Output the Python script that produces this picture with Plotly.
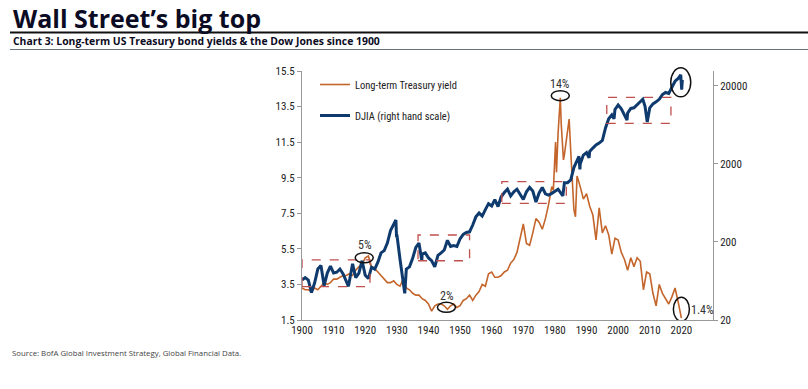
import math
import plotly.graph_objects as go

# ---------------- data ----------------
yield_years = [1900, 1901, 1902, 1903, 1904, 1905, 1906, 1907, 1908, 1909,
               1910, 1911, 1912, 1913, 1914, 1915, 1916, 1917, 1918, 1919,
               1920, 1921, 1922, 1923, 1924, 1925, 1926, 1927, 1928, 1929,
               1930, 1931, 1932, 1933, 1934, 1935, 1936, 1937, 1938, 1939,
               1940, 1941, 1942, 1943, 1944, 1945, 1946, 1947, 1948, 1949,
               1950, 1951, 1952, 1953, 1954, 1955, 1956, 1957, 1958, 1959,
               1960, 1961, 1962, 1963, 1964, 1965, 1966, 1967, 1968, 1969,
               1970, 1971, 1972, 1973, 1974, 1975, 1976, 1977, 1978, 1979,
               1979.5, 1980.2, 1980.5, 1981.0, 1981.7, 1982.0, 1982.7, 1983.0,
               1984.5, 1985, 1986, 1986.5, 1987, 1988, 1989,
               1990, 1991, 1992, 1993, 1994, 1995, 1996, 1997, 1998, 1999,
               2000, 2001, 2002, 2003, 2004, 2005, 2006, 2007, 2008, 2009,
               2010, 2011, 2012, 2013, 2014, 2015, 2016, 2017, 2018, 2019, 2020]
yield_values = [3.3, 3.2, 3.2, 3.1, 3.3, 3.2, 3.4, 3.6, 3.5, 3.6,
                3.8, 3.8, 3.9, 4.0, 4.0, 4.1, 4.0, 4.3, 4.5, 4.6,
                5.0, 5.1, 4.5, 4.4, 4.2, 4.0, 3.8, 3.6, 3.6, 3.7,
                3.5, 3.4, 3.8, 3.3, 3.2, 3.0, 2.9, 2.9, 2.7, 2.6,
                2.4, 2.0, 2.3, 2.4, 2.4, 2.3, 2.1, 2.3, 2.4, 2.2,
                2.3, 2.6, 2.7, 2.9, 2.6, 2.9, 3.1, 3.5, 3.4, 4.1,
                4.2, 3.9, 3.9, 4.0, 4.2, 4.3, 4.7, 4.9, 5.3, 6.1,
                6.9, 5.8, 5.7, 6.4, 7.2, 7.0, 6.6, 7.2, 8.0, 9.0,
                8.8, 11.5, 9.8, 12.0, 14.0, 12.5, 10.5, 10.8,
                12.8, 11.0, 7.7, 7.3, 9.6, 9.0, 8.3,
                8.6, 7.9, 7.4, 6.0, 7.8, 6.4, 6.8, 6.3, 5.2, 6.1,
                6.0, 5.3, 4.9, 4.3, 5.0, 4.5, 5.0, 4.8, 3.2, 4.2,
                4.1, 3.0, 2.3, 3.5, 3.0, 2.7, 2.4, 2.8, 3.3, 2.5, 1.6]

djia_years = [1900, 1901, 1902, 1903, 1904, 1905, 1906, 1907, 1908, 1909,
              1910, 1911, 1912, 1913, 1914.7, 1916, 1917, 1918, 1919,
              1920, 1921, 1922, 1923, 1924, 1925, 1926, 1927, 1928, 1929.7,
              1929.9, 1930, 1931, 1932.5, 1933, 1934, 1935, 1936, 1937, 1937.9,
              1938, 1939, 1940, 1941, 1942, 1943, 1944, 1945, 1946, 1947,
              1948, 1949, 1950, 1951, 1952, 1953, 1954, 1955, 1956, 1957,
              1958, 1959, 1960, 1961, 1962, 1963, 1964, 1965, 1966, 1967,
              1968, 1969, 1970, 1971, 1972, 1973, 1974, 1975, 1976, 1977,
              1978, 1979, 1980, 1981, 1982.5, 1983, 1984, 1985, 1986, 1987.6,
              1987.9, 1988, 1989, 1990, 1990.8, 1991, 1992, 1993, 1994, 1995,
              1996, 1997, 1998, 1998.7, 1999, 2000, 2001, 2002, 2002.8, 2003,
              2004, 2005, 2006, 2007.8, 2008.5, 2009.2, 2010, 2011, 2012, 2013,
              2014, 2015, 2016, 2017, 2018, 2019, 2019.8, 2020.1, 2020.3]
djia_values = [65, 70, 65, 45, 60, 90, 100, 55, 80, 98,
               80, 82, 90, 78, 54, 105, 70, 80, 115,
               75, 68, 95, 90, 110, 145, 155, 194, 280, 383,
               230, 250, 120, 44, 90, 96, 124, 170, 194, 115,
               140, 145, 125, 115, 96, 135, 145, 158, 210, 175,
               180, 175, 220, 250, 265, 270, 330, 420, 470, 430,
               520, 620, 580, 700, 570, 760, 860, 950, 780, 880,
               950, 800, 700, 880, 1000, 900, 650, 850, 1000, 830,
               800, 840, 900, 950, 780, 1150, 1150, 1250, 1800, 2500,
               1700, 2000, 2600, 2800, 2400, 2900, 3200, 3500, 3700, 4000,
               5800, 7600, 8500, 7600, 10000, 11400, 10200, 8500, 7300, 9000,
               10300, 10500, 11500, 13500, 11000, 6900, 10500, 11800, 12500, 13500,
               15500, 16500, 16000, 19500, 23000, 25000, 27800, 18000, 24000]

x_ticks = [1900, 1910, 1920, 1930, 1940, 1950, 1960, 1970, 1980, 1990, 2000, 2010, 2020]
y_ticks = [1.5, 3.5, 5.5, 7.5, 9.5, 11.5, 13.5, 15.5]
y2_ticks = [20, 200, 2000, 20000]
y2_ticktext = ["20", "200", "2000", "20000"]

# highlighted ranges (years, DJIA level low/high)
box_x0 = [1900, 1936.7, 1963.2, 1996.4]
box_x1 = [1921.5, 1953, 1983.6, 2016.7]
box_y0 = [53.5, 115, 627, 6650]
box_y1 = [118, 246, 1186, 14300]

# highlighted yield points: year, label
yield_marks_year = [1920, 1946, 1981.7, 2020]
yield_marks_text = ["5%", "2%", "14%", "1.4%"]

X_RANGE = [1900, 2030]
Y_RANGE = [1.5, 15.5]
Y2_RANGE = [math.log10(20), 4.493]

ORANGE = "#C4662B"
BLUE = "#0E3A6E"
BOXRED = "#C0504D"
NARROW = "Roboto Condensed, Liberation Sans Narrow, sans-serif"
HEAD = "Open Sans, Noto Sans, sans-serif"

# page geometry (body margin removed in the page, see post_script)
W, H = 808, 389
L, R, T, B = 302, 95, 71, 69
pw, ph = W - L - R, H - T - B


def px(xs):
    """screen x pixel -> paper coordinate"""
    return (xs - L) / pw


def py(ys):
    """screen y pixel -> paper coordinate"""
    return (H - B - ys) / ph


# ---------------- figure ----------------
fig = go.Figure()
fig.add_trace(go.Scatter(x=yield_years, y=yield_values, mode="lines",
                         name="Long-term Treasury yield", legendgroup="a",
                         line=dict(color=ORANGE, width=1.6), yaxis="y"))
fig.add_trace(go.Scatter(x=djia_years, y=djia_values, mode="lines",
                         name="DJIA (right hand scale)", legendgroup="b",
                         line=dict(color=BLUE, width=3), yaxis="y2"))

# dashed boxes
for a, b, c, d in zip(box_x0, box_x1, box_y0, box_y1):
    fig.add_shape(type="rect", xref="x", yref="y2", x0=a, x1=b, y0=c, y1=d,
                  line=dict(color=BOXRED, width=1.3, dash="dash"),
                  fillcolor="rgba(0,0,0,0)")

# ellipses and labels on yield highlights
circ = {  # pixel offsets (dx0, dx1, dy0, dy1) relative to point, y positive up
    "5%": (-10, 8, -5, 5),
    "2%": (-10, 8, -3, 7),
    "14%": (-9, 9, -3, 7),
    "1.4%": (-8, 8, -3, 21),
}
for yr, txt in zip(yield_marks_year, yield_marks_text):
    val = yield_values[yield_years.index(yr)]
    dx0, dx1, dy0, dy1 = circ[txt]
    fig.add_shape(type="circle", xref="x", yref="y",
                  xsizemode="pixel", ysizemode="pixel",
                  xanchor=yr, yanchor=val, x0=dx0, x1=dx1, y0=dy0, y1=dy1,
                  line=dict(color="#111111", width=1.5))
    if txt == "1.4%":
        fig.add_annotation(x=yr, y=val, xref="x", yref="y", text=txt,
                           showarrow=False, xanchor="left", yanchor="middle",
                           xshift=8, yshift=8,
                           font=dict(family=NARROW, size=12, color="#333333"))
    else:
        fig.add_annotation(x=yr, y=val, xref="x", yref="y", text=txt,
                           showarrow=False, xanchor="center", yanchor="bottom",
                           yshift=4 if txt != "14%" else 5,
                           font=dict(family=NARROW, size=12, color="#333333"))

# DJIA top circle (drawn in paper space so it is not clipped by the plot edge)
top_i = djia_values.index(max(djia_values))
top_xp = (djia_years[top_i] - X_RANGE[0]) / (X_RANGE[1] - X_RANGE[0])
top_yp = (math.log10(djia_values[top_i]) - Y2_RANGE[0]) / (Y2_RANGE[1] - Y2_RANGE[0])
fig.add_shape(type="circle", xref="paper", yref="paper",
              xsizemode="pixel", ysizemode="pixel",
              xanchor=top_xp, yanchor=top_yp,
              x0=-10, x1=10, y0=-22, y1=7,
              line=dict(color="#111111", width=1.5))

# ---------------- header / footer ----------------
fig.add_annotation(xref="paper", yref="paper", x=px(11), y=py(18),
                   xanchor="left", yanchor="middle", showarrow=False,
                   text="<b>Wall Street’s big top</b>",
                   font=dict(family=HEAD, size=25, color="#0B0B24"))
fig.add_annotation(xref="paper", yref="paper", x=px(11), y=py(41),
                   xanchor="left", yanchor="middle", showarrow=False,
                   text="<b>Chart 3: Long-term US Treasury bond yields & the Dow Jones since 1900</b>",
                   font=dict(family=HEAD, size=10.4, color="#0B0B24"))
fig.add_annotation(xref="paper", yref="paper", x=px(10), y=py(353),
                   xanchor="left", yanchor="middle", showarrow=False,
                   text="Source: BofA Global Investment Strategy, Global Financial Data.",
                   font=dict(family=HEAD, size=7.8, color="#444444"))
fig.add_shape(type="line", xref="paper", yref="paper", x0=px(10), x1=px(808),
              y0=py(32.5), y1=py(32.5), line=dict(color="#111111", width=2))
fig.add_shape(type="line", xref="paper", yref="paper", x0=px(10), x1=px(808),
              y0=py(49.5), y1=py(49.5), line=dict(color="#6B7378", width=1))

fig.update_layout(
    width=W, height=H,
    margin=dict(l=L, r=R, t=T, b=B, pad=0),
    paper_bgcolor="white", plot_bgcolor="white",
    showlegend=True,
    legend=dict(x=px(315), y=py(70), xanchor="left", yanchor="top",
                bgcolor="rgba(0,0,0,0)", tracegroupgap=12,
                font=dict(family=NARROW, size=10.5, color="#222222")),
    xaxis=dict(range=X_RANGE, tickvals=x_ticks, showgrid=False, zeroline=False,
               showline=True, linecolor="#999999", linewidth=1, ticks="",
               tickfont=dict(family=NARROW, size=11, color="#222222")),
    yaxis=dict(range=Y_RANGE, tickvals=y_ticks, tickformat=".1f", showgrid=False,
               zeroline=False, showline=True, linecolor="#999999", linewidth=1,
               ticks="outside", ticklen=4, tickcolor="#999999",
               tickfont=dict(family=NARROW, size=11, color="#222222")),
    yaxis2=dict(type="log", range=Y2_RANGE, tickvals=y2_ticks, ticktext=y2_ticktext,
                overlaying="y", side="right", showgrid=False, zeroline=False,
                showline=True, linecolor="#999999", linewidth=1,
                ticks="outside", ticklen=4, tickcolor="#999999",
                tickfont=dict(family=NARROW, size=11, color="#222222")),
)

fig.write_html("out.html", config={"displayModeBar": False},
               post_script="document.body.style.margin='0';")
